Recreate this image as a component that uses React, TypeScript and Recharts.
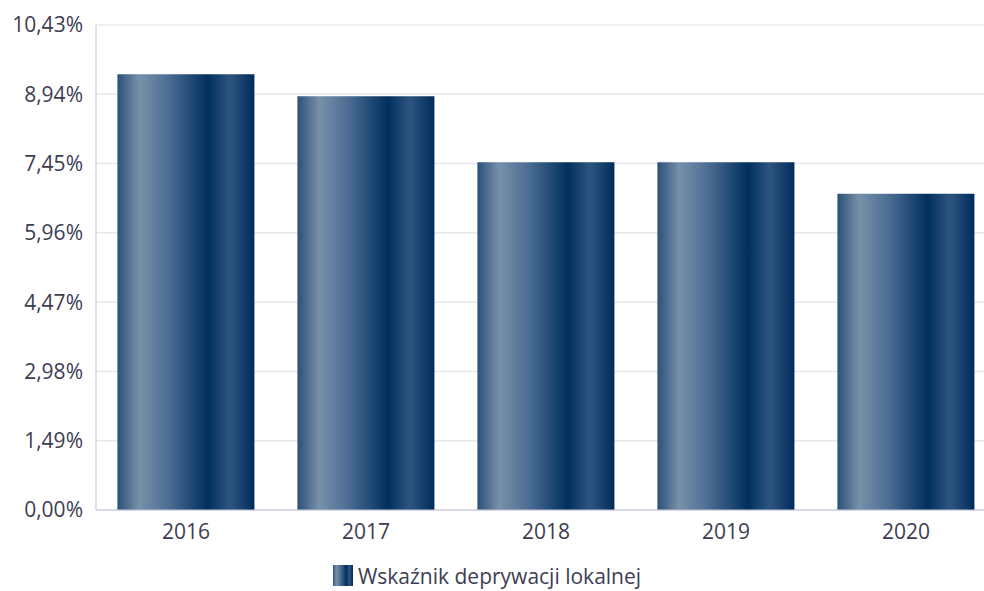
import { Bar, BarChart, CartesianGrid, Legend, XAxis, YAxis } from "recharts";

const years = ["2016", "2017", "2018", "2019", "2020"];
const values = [9.37, 8.9, 7.48, 7.48, 6.8];
const yTicks = [0, 1.49, 2.98, 4.47, 5.96, 7.45, 8.94, 10.43];
const seriesName = "Wskaźnik deprywacji lokalnej";

const rows = years.map((year, i) => ({ year, value: values[i] }));

const FONT = "'Open Sans', sans-serif";
const TEXT = "#3d3d52";

const formatPct = (v: number) => `${v.toFixed(2).replace(".", ",")}%`;

const barGradient =
  "linear-gradient(to right, #2b5079 0%, #7891aa 16%, #4a6b91 38%, #00305f 66%, #2e5580 82%, #002b5a 100%)";

function LegendContent() {
  return (
    <div style={{ height: 40, width: 984, display: "flex", justifyContent: "center", alignItems: "center", fontFamily: FONT, fontSize: 21, color: TEXT, paddingRight: 10, paddingTop: 9, boxSizing: "border-box" }}>
      <span style={{ width: 20, height: 21, background: barGradient, display: "inline-block", marginRight: 5 }} />
      <span>{seriesName}</span>
    </div>
  );
}

export default function App() {
  return (
    <div style={{ position: "absolute", left: 0, top: 0, width: 984, height: 591, overflow: "hidden", background: "#fff" }}>
      <BarChart width={996} height={591} data={rows} margin={{ top: 25, right: 0, bottom: 0, left: 0 }} barCategoryGap="11.9%">
        <defs>
          <linearGradient id="barFill" x1="0" y1="0" x2="1" y2="0">
            <stop offset="0%" stopColor="#2b5079" />
            <stop offset="16%" stopColor="#7891aa" />
            <stop offset="38%" stopColor="#4a6b91" />
            <stop offset="66%" stopColor="#00305f" />
            <stop offset="82%" stopColor="#2e5580" />
            <stop offset="100%" stopColor="#002b5a" />
          </linearGradient>
        </defs>
        <CartesianGrid vertical={false} stroke="#e8e8f0" strokeWidth={1.5} />
        <XAxis
          dataKey="year"
          height={41}
          tickLine={false}
          axisLine={{ stroke: "#c4c4da" }}
          tick={{ fill: TEXT, fontSize: 21, fontFamily: FONT }}
          tickMargin={8}
        />
        <YAxis
          width={96}
          domain={[0, 10.43]}
          ticks={yTicks}
          interval={0}
          tickFormatter={formatPct}
          tickLine={false}
          axisLine={{ stroke: "#c4c4da" }}
          tick={{ fill: TEXT, fontSize: 21, fontFamily: FONT }}
          tickMargin={7}
        />
        <Legend content={<LegendContent />} verticalAlign="bottom" height={40} />
        <Bar dataKey="value" name={seriesName} fill="url(#barFill)" isAnimationActive={false} />
      </BarChart>
    </div>
  );
}
